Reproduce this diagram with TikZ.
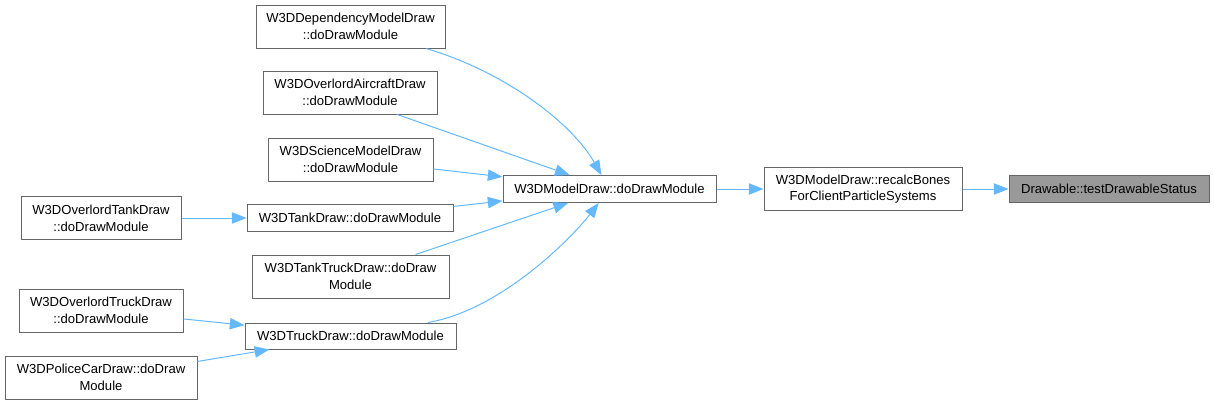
\documentclass[tikz,border=0pt]{standalone}
\usepackage{fontspec}
\setmainfont{Liberation Sans}
\usepackage{xcolor}
\usetikzlibrary{positioning, arrows.meta}

\definecolor{edgeblue}{HTML}{63B8FF}
\definecolor{boxline}{HTML}{666666}
\definecolor{rootfill}{HTML}{999999}

\begin{document}
\begin{tikzpicture}[
  x=0.75pt, y=-0.75pt,
  every node/.style={font=\fontsize{9.8}{12.5}\selectfont},
  arr/.style={-{Triangle[length=11pt, width=8.5pt]}, line width=0.75pt, edgeblue},
  fn/.style={draw=boxline, line width=0.75pt, fill=white, align=center, inner sep=0pt},
  fntwo/.style={fn, minimum height=32.25pt},
  fnone/.style={fn, minimum height=20.25pt}
]

\useasboundingbox (0,0) rectangle (1214,404);

%% 1. Root function
\node[fnone, fill=rootfill, minimum width=150pt] (drawable) at (1109,189)
  {Drawable::testDrawableStatus};

%% 2. Direct caller
\node[fntwo, minimum width=148.5pt] (recalc) at (863,189)
  {W3DModelDraw::recalcBones\\ForClientParticleSystems};

%% 3. Module draw
\node[fnone, minimum width=159.75pt] (model) at (609.5,189)
  {W3DModelDraw::doDrawModule};

%% 4. Callers of the module draw
\node[fntwo, minimum width=141.75pt] (dep) at (350.5,26.5)
  {W3DDependencyModelDraw\\::doDrawModule};
\node[fntwo, minimum width=130.5pt] (air) at (350,92.5)
  {W3DOverlordAircraftDraw\\::doDrawModule};
\node[fntwo, minimum width=123.75pt] (sci) at (350.5,159.5)
  {W3DScienceModelDraw\\::doDrawModule};
\node[fnone, minimum width=154.5pt] (tank) at (350,218)
  {W3DTankDraw::doDrawModule};
\node[fntwo, minimum width=147.75pt] (tanktruck) at (350.5,276.5)
  {W3DTankTruckDraw::doDraw\\Module};
\node[fnone, minimum width=158.25pt, minimum height=19.5pt] (truck) at (350.5,336)
  {W3DTruckDraw::doDrawModule};

%% 5. Outer callers
\node[fntwo, minimum width=120pt] (ovtank) at (101,218)
  {W3DOverlordTankDraw\\::doDrawModule};
\node[fntwo, minimum width=123pt] (ovtruck) at (101,310.5)
  {W3DOverlordTruckDraw\\::doDrawModule};
\node[fntwo, minimum width=144pt] (police) at (101,377.5)
  {W3DPoliceCarDraw::doDraw\\Module};

%% ---- Arrows ----
% into the module draw
\draw[arr] (dep) .. controls (500,70) and (570,120) .. (model);
\draw[arr] (air.-25) -- (model);
\draw[arr] (sci) -- (model);
\draw[arr] (tank) -- (model);
\draw[arr] (tanktruck) -- (model);
\draw[arr] (truck) .. controls (500,310) and (570,240) .. (model);

% outer callers
\draw[arr] (ovtank) -- (tank);
\draw[arr] (ovtruck) -- (truck);
\draw[arr] (police) -- (truck);

% down to the root
\draw[arr] (model) -- (recalc);
\draw[arr] (recalc) -- (drawable);

\end{tikzpicture}
\end{document}
